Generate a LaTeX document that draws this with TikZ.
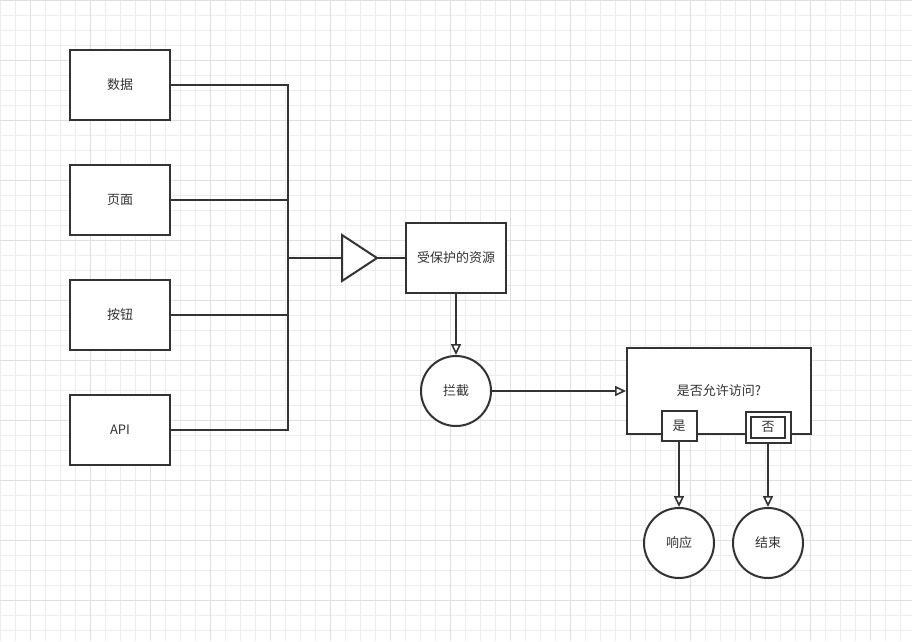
\documentclass[tikz,border=0pt]{standalone}
\usepackage{fontspec}
\setmainfont{Noto Sans CJK SC}
\usetikzlibrary{arrows.meta}
\definecolor{ink}{HTML}{333333}
\definecolor{gridminor}{HTML}{EDEDED}
\definecolor{gridmajor}{HTML}{E0E0E0}
\tikzset{
  every node/.style={font=\fontsize{13}{15}\selectfont, text=ink},
  wire/.style={draw=ink, line width=2pt},
  flow/.style={wire, -{Triangle[length=11pt,width=10pt,fill=white,line width=1.6pt]}},
  rectbox/.style={draw=ink, line width=2pt, fill=white, inner sep=0pt,
                  minimum width=100pt, minimum height=70pt},
  roundnode/.style={circle, draw=ink, line width=2pt, fill=white, inner sep=0pt,
                    minimum size=70pt},
  tagbox/.style={draw=ink, line width=2pt, fill=white, inner sep=0pt}
}
\begin{document}
\begin{tikzpicture}[x=1pt, y=-1pt]
  \useasboundingbox (0,0) rectangle (912,641);
  % background grid: fine lines every 15, stronger lines every 60
  \fill[white] (0,0) rectangle (912,641);
  \foreach \gx in {0,15,...,912} \draw[gridminor, line width=1pt] (\gx,0) -- (\gx,641);
  \foreach \gy in {0,15,...,641} \draw[gridminor, line width=1pt] (0,\gy) -- (912,\gy);
  \foreach \gx in {30,90,...,912} \draw[gridmajor, line width=1pt] (\gx,0) -- (\gx,641);
  \foreach \gy in {0,60,...,641} \draw[gridmajor, line width=1pt] (0,\gy) -- (912,\gy);

  % sources
  \node[rectbox] (data) at (120,85)  {数据};
  \node[rectbox] (page) at (120,200) {页面};
  \node[rectbox] (btn)  at (120,315) {按钮};
  \node[rectbox] (api)  at (120,430) {API};

  % collecting bus and the gate triangle
  \coordinate (bus) at (288,258);
  \coordinate (gateIn) at (342,258);
  \coordinate (gateOut) at (377,258);
  \foreach \src in {data,page,btn,api} \draw[wire] (\src.east) -| (bus);
  \draw[wire] (bus) -- (gateIn);
  \draw[draw=ink, line width=2pt, fill=white, line join=miter]
    (342,235) -- (342,281) -- (gateOut) -- cycle;

  % protected resource and interception
  \node[rectbox] (res) at (456,258) {受保护的资源};
  \draw[wire] (gateOut) -- (res.west);
  \node[roundnode] (cut) at (456,391) {拦截};
  \draw[flow] (res.south) -- (cut.north);

  % access decision
  \node[tagbox, minimum width=184pt, minimum height=86pt] (ask) at (719,391) {是否允许访问?};
  \draw[flow] (cut.east) -- (ask.west);
  \node[tagbox, minimum width=35pt, minimum height=30pt] (yes) at (679,426) {是};
  \node[tagbox, minimum width=45pt, minimum height=31pt] (noOuter) at (768,427) {};
  \node[tagbox, minimum width=34pt, minimum height=21pt] (no) at (768,427) {否};

  % outcomes
  \node[roundnode] (resp) at (679,543) {响应};
  \node[roundnode] (stop) at (768,543) {结束};
  \draw[flow] (yes.south) -- (resp.north);
  \draw[flow] (noOuter.south) -- (stop.north);
\end{tikzpicture}
\end{document}
